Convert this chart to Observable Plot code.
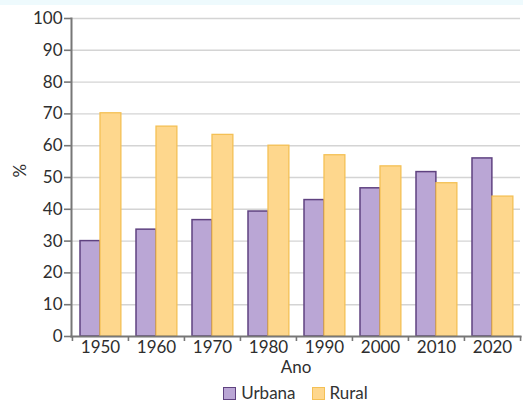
<!DOCTYPE html>
<html><head><meta charset="utf-8">
<script src="https://cdn.jsdelivr.net/npm/d3@7"></script>
<script src="https://cdn.jsdelivr.net/npm/@observablehq/plot@0.6"></script>
<style>
body{margin:0;background:#fff;font-family:Lato,sans-serif;overflow:hidden;}
#topband{position:absolute;left:0;top:0;width:523px;height:5px;background:#eefafd;}
.legend{display:flex;justify-content:center;align-items:center;margin:0 3px 0 71px;height:20px;font-size:17px;line-height:18px;color:#333;}
.item{display:flex;align-items:center;margin:0 8px;}
.sw{width:13px;height:13px;display:inline-block;margin-right:5px;box-sizing:border-box;}
</style></head><body>
<div id="topband"></div>
<div id="chart"></div>
<script>
const years = ["1950","1960","1970","1980","1990","2000","2010","2020"];
const urbana = [30.0,33.6,36.6,39.3,42.9,46.6,51.7,56.0];
const rural = [70.2,66.0,63.4,60.0,57.0,53.5,48.2,44.0];
const seriesNames = ["Urbana","Rural"];
const fills = ["#baa6d5","#fed78d"];
const strokes = ["#5f4280","#f4c055"];
const yTicks = d3.range(0,101,10);

const urbData = years.map((y,i)=>({year:y, value:urbana[i]}));
const rurData = years.map((y,i)=>({year:y, value:rural[i]}));

const W = 523, H = 383, mL = 71, mR = 3;
const bw = (W - mL - mR) / years.length;

const plot = Plot.plot({
  width: W, height: H,
  marginTop: 18, marginBottom: 47, marginLeft: mL, marginRight: mR,
  style: {fontFamily: "Lato, sans-serif", fontSize: "17px", color: "#333", background: "transparent"},
  x: {type: "band", domain: years, padding: 0},
  y: {domain: [0,100]},
  marks: [
    Plot.gridY({ticks: yTicks.slice(1), stroke: "#d4d4d4", strokeOpacity: 1, strokeWidth: 1.4}),
    Plot.barY(urbData, {x: "year", y: "value", fill: fills[0], stroke: strokes[0], strokeWidth: 1.5, insetLeft: 8, insetRight: bw - 28}),
    Plot.barY(rurData, {x: "year", y: "value", fill: fills[1], stroke: strokes[1], strokeWidth: 1.3, insetLeft: 28, insetRight: bw - 49}),
    Plot.frame({anchor: "left", stroke: "#777", strokeWidth: 2}),
    Plot.frame({anchor: "bottom", stroke: "#777", strokeWidth: 2}),
    Plot.axisY({ticks: yTicks, tickSize: 7, tickPadding: 2, label: null, fontSize: 17, fill: "#2e2e2e", stroke: "#777", strokeWidth: 1.6}),
    Plot.axisX({tickSize: 0, tickPadding: 4, label: null, fontSize: 17, fill: "#2e2e2e"}),
    Plot.axisX({tickSize: 5, text: null, label: null, dx: -bw/2, stroke: "#777", strokeWidth: 1.6}),
    Plot.axisX({ticks: [years[years.length-1]], tickSize: 5, text: null, label: null, dx: bw/2, stroke: "#777", strokeWidth: 1.6}),
    Plot.text(["Ano"], {frameAnchor: "bottom", dy: 36, fontSize: 17, fill: "#2e2e2e"}),
    Plot.text(["%"], {frameAnchor: "left", dx: -51, rotate: -90, fontSize: 17, fill: "#2e2e2e"})
  ]
});
document.getElementById("chart").appendChild(plot);

const leg = document.createElement("div");
leg.className = "legend";
seriesNames.forEach((n,i)=>{
  const it = document.createElement("span");
  it.className = "item";
  const sw = document.createElement("span");
  sw.className = "sw";
  sw.style.background = fills[i];
  sw.style.border = "1.5px solid " + strokes[i];
  it.appendChild(sw);
  const t = document.createElement("span");
  t.textContent = n;
  it.appendChild(t);
  leg.appendChild(it);
});
document.getElementById("chart").appendChild(leg);
</script>
</body></html>
